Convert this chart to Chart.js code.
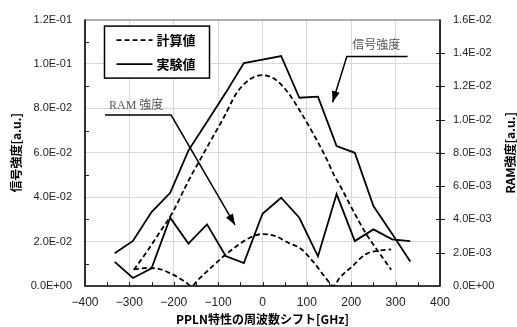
<!DOCTYPE html>
<html lang="ja">
<head>
<meta charset="UTF-8">
<title>PPLN 周波数シフト vs 信号強度 / RAM強度</title>
<script src="https://cdn.jsdelivr.net/npm/chart.js"></script>
<style>
  body { margin: 0; background: #fff; }
  canvas { display: block; }
</style>
</head>
<body>
<canvas id="chart" width="517" height="327"></canvas>
<script>
// experimental points (GHz)
const expShift = [-333, -292, -250, -208, -167, -125, -83, -42, 0, 42, 83, 125, 167, 208, 250, 292, 333];
const expSignal = [0.0148, 0.0203, 0.0333, 0.0420, 0.0610, 0.0740, 0.0870, 0.1004, 0.1020, 0.1036, 0.0848, 0.0853, 0.0630, 0.0600, 0.0360, 0.0235, 0.0110];
const expRam = [0.00145, 0.00048, 0.00106, 0.00410, 0.00255, 0.00370, 0.00180, 0.00137, 0.00434, 0.00530, 0.00410, 0.00178, 0.00552, 0.00270, 0.00340, 0.00280, 0.00270];

// calculated curves (GHz)
const calcShift = [-290, -261, -232, -203, -174, -160, -145, -116, -87, -58, -29, 0, 29, 58, 87, 116, 145, 160, 174, 203, 232, 261, 290];
const calcSignal = [0.0073, 0.0153, 0.0241, 0.0330, 0.0445, 0.0500, 0.0553, 0.0657, 0.0760, 0.0870, 0.0930, 0.0950, 0.0930, 0.0870, 0.0780, 0.0680, 0.0570, 0.0504, 0.0455, 0.0344, 0.0240, 0.0155, 0.0073];
const calcRam = [0.00100, 0.00108, 0.00102, 0.00070, 0.00025, 0.00000, 0.00038, 0.00110, 0.00180, 0.00240, 0.00290, 0.00312, 0.00300, 0.00260, 0.00222, 0.00140, 0.00040, 0.00000, 0.00050, 0.00120, 0.00190, 0.00212, 0.00220];

const legendLabels = ['計算値', '実験値'];
const xTitle = 'PPLN特性の周波数シフト[GHz]';
const yTitle = '信号強度[a.u.]';
const y2Title = 'RAM強度[a.u.]';
const noteRam = 'RAM 強度';
const noteSignal = '信号強度';

const pts = (xs, ys) => xs.map((x, i) => ({ x: x, y: ys[i] }));

function sci(v) {
    if (Math.abs(v) < 1e-12) return '0.0E+00';
    const parts = v.toExponential(1).split('e');
    const e = parts[1];
    return parts[0] + 'E' + e[0] + e.slice(1).padStart(2, '0');
}

const DASH = [5, 3];
const CJK = '"Noto Sans CJK JP", "Noto Sans", sans-serif';

// borders, minor ticks, legend, notes and rotated axis titles
const decorations = {
    id: 'decorations',
    afterDatasetsDraw(chart) {
        const ctx = chart.ctx;
        const ca = chart.chartArea;
        const sx = chart.scales.x, sy = chart.scales.y, sy2 = chart.scales.y2;
        ctx.save();

        // minor tick marks
        ctx.strokeStyle = '#222';
        ctx.lineWidth = 1;
        ctx.beginPath();
        for (let v = -350; v < 400; v += 50) {
            const px = Math.round(sx.getPixelForValue(v)) + 0.5;
            ctx.moveTo(px, ca.bottom); ctx.lineTo(px, ca.bottom - 4);
        }
        for (let v = 0.01; v < 0.12; v += 0.02) {
            const py = Math.round(sy.getPixelForValue(v)) + 0.5;
            ctx.moveTo(ca.left, py); ctx.lineTo(ca.left + 4, py);
        }
        for (let v = 0.002; v < 0.016; v += 0.002) {
            const py = Math.round(sy2.getPixelForValue(v)) + 0.5;
            ctx.moveTo(ca.right - 4, py); ctx.lineTo(ca.right + 5, py);
        }
        ctx.stroke();

        // plot border
        ctx.strokeStyle = '#777';
        ctx.lineWidth = 1;
        ctx.beginPath();
        ctx.moveTo(ca.left, ca.top + 0.5); ctx.lineTo(ca.right, ca.top + 0.5);
        ctx.stroke();
        ctx.strokeStyle = '#000';
        ctx.lineWidth = 1.6;
        ctx.beginPath();
        ctx.moveTo(ca.left, ca.top); ctx.lineTo(ca.left, ca.bottom);
        ctx.lineTo(ca.right, ca.bottom); ctx.lineTo(ca.right, ca.top);
        ctx.stroke();

        // legend box
        const lx = ca.left + 19.5, ly = ca.top + 6.5, lw = 105, lh = 52;
        ctx.fillStyle = '#fff';
        ctx.fillRect(lx, ly, lw, lh);
        ctx.strokeStyle = '#000';
        ctx.lineWidth = 1.5;
        ctx.strokeRect(lx, ly, lw, lh);
        ctx.font = 'bold 13px ' + CJK;
        ctx.textBaseline = 'middle';
        ctx.textAlign = 'left';
        legendLabels.forEach((lab, i) => {
            const yy = ly + 14 + i * 24;
            ctx.setLineDash(i === 0 ? DASH : []);
            ctx.lineWidth = 1.8;
            ctx.beginPath();
            ctx.moveTo(lx + 12, yy); ctx.lineTo(lx + 48, yy);
            ctx.stroke();
            ctx.setLineDash([]);
            ctx.fillStyle = '#000';
            ctx.fillText(lab, lx + 52, yy);
        });

        // callout notes
        const arrow = (x0, y0, x1, y1) => {
            const a = Math.atan2(y1 - y0, x1 - x0);
            const L = 11, W = 4;
            ctx.beginPath();
            ctx.moveTo(x1, y1);
            ctx.lineTo(x1 - L * Math.cos(a) + W * Math.sin(a), y1 - L * Math.sin(a) - W * Math.cos(a));
            ctx.lineTo(x1 - L * Math.cos(a) - W * Math.sin(a), y1 - L * Math.sin(a) + W * Math.cos(a));
            ctx.closePath();
            ctx.fill();
        };
        const callout = (text, tx, ty, hx0, hx1, hy, ax, ay, leftCorner) => {
            ctx.font = '12px "Liberation Serif", ' + CJK;
            ctx.fillStyle = '#555';
            ctx.textAlign = 'left';
            ctx.textBaseline = 'middle';
            ctx.fillText(text, sx.getPixelForValue(tx), sy.getPixelForValue(ty));
            const px0 = sx.getPixelForValue(hx0), px1 = sx.getPixelForValue(hx1);
            const py = sy.getPixelForValue(hy);
            const cx = leftCorner ? px0 : px1;
            const tipX = sx.getPixelForValue(ax), tipY = sy.getPixelForValue(ay);
            ctx.strokeStyle = '#000';
            ctx.fillStyle = '#000';
            ctx.lineWidth = 1.5;
            ctx.beginPath();
            ctx.moveTo(leftCorner ? px1 : px0, py);
            ctx.lineTo(cx, py);
            ctx.lineTo(tipX, tipY);
            ctx.stroke();
            arrow(cx, py, tipX, tipY);
        };
        callout(noteRam, -346, 0.081, -355, -206, 0.077, -62, 0.0275, false);
        callout(noteSignal, 202, 0.108, 190, 327, 0.1034, 158, 0.0828, true);

        // axis titles
        ctx.fillStyle = '#000';
        ctx.font = 'bold 12px ' + CJK;
        ctx.textAlign = 'center';
        ctx.textBaseline = 'middle';
        ctx.fillText(xTitle, (ca.left + ca.right) / 2, 319);
        const midY = (ca.top + ca.bottom) / 2;
        [[16, yTitle], [510, y2Title]].forEach(([tx, t]) => {
            ctx.save();
            ctx.translate(tx, midY);
            ctx.rotate(-Math.PI / 2);
            ctx.fillText(t, 0, 0);
            ctx.restore();
        });
        ctx.restore();
    }
};

const tickFont = { family: '"Liberation Sans", Arial, sans-serif', size: 11 };

new Chart(document.getElementById('chart').getContext('2d'), {
    type: 'line',
    data: {
        datasets: [
            {
                label: '実験値 信号強度',
                data: pts(expShift, expSignal),
                yAxisID: 'y',
                borderColor: '#000',
                borderWidth: 1.8,
                pointRadius: 0,
                tension: 0
            },
            {
                label: '計算値 信号強度',
                data: pts(calcShift, calcSignal),
                yAxisID: 'y',
                borderColor: '#000',
                borderWidth: 1.8,
                borderDash: DASH,
                pointRadius: 0,
                cubicInterpolationMode: 'monotone'
            },
            {
                label: '実験値 RAM強度',
                data: pts(expShift, expRam),
                yAxisID: 'y2',
                borderColor: '#000',
                borderWidth: 1.8,
                pointRadius: 0,
                tension: 0
            },
            {
                label: '計算値 RAM強度',
                data: pts(calcShift, calcRam),
                yAxisID: 'y2',
                borderColor: '#000',
                borderWidth: 1.8,
                borderDash: DASH,
                pointRadius: 0,
                cubicInterpolationMode: 'monotone'
            }
        ]
    },
    options: {
        responsive: false,
        animation: false,
        layout: { padding: { top: 18, left: 0, right: 0, bottom: 0 } },
        plugins: {
            legend: { display: false },
            tooltip: { enabled: false }
        },
        scales: {
            x: {
                type: 'linear',
                min: -400,
                max: 400,
                afterFit: s => { s.height = 41; },
                grid: { color: '#d9d9d9', drawTicks: false },
                border: { display: false },
                ticks: {
                    stepSize: 100,
                    padding: 9,
                    color: '#222',
                    font: { family: '"Liberation Sans", Arial, sans-serif', size: 12 },
                    callback: v => (v < 0 ? '\u2212' + Math.abs(v) : String(v))
                }
            },
            y: {
                position: 'left',
                min: 0,
                max: 0.12,
                afterFit: s => { s.width = 85; },
                grid: { color: '#d9d9d9', drawTicks: false },
                border: { display: false },
                ticks: {
                    stepSize: 0.02,
                    padding: 13,
                    color: '#222',
                    font: tickFont,
                    callback: v => sci(v)
                }
            },
            y2: {
                position: 'right',
                min: 0,
                max: 0.016,
                afterFit: s => { s.width = 77; },
                grid: { display: false, drawTicks: false },
                border: { display: false },
                ticks: {
                    stepSize: 0.002,
                    padding: 13,
                    color: '#222',
                    font: tickFont,
                    callback: v => sci(v)
                }
            }
        }
    },
    plugins: [decorations]
});
</script>
</body>
</html>
